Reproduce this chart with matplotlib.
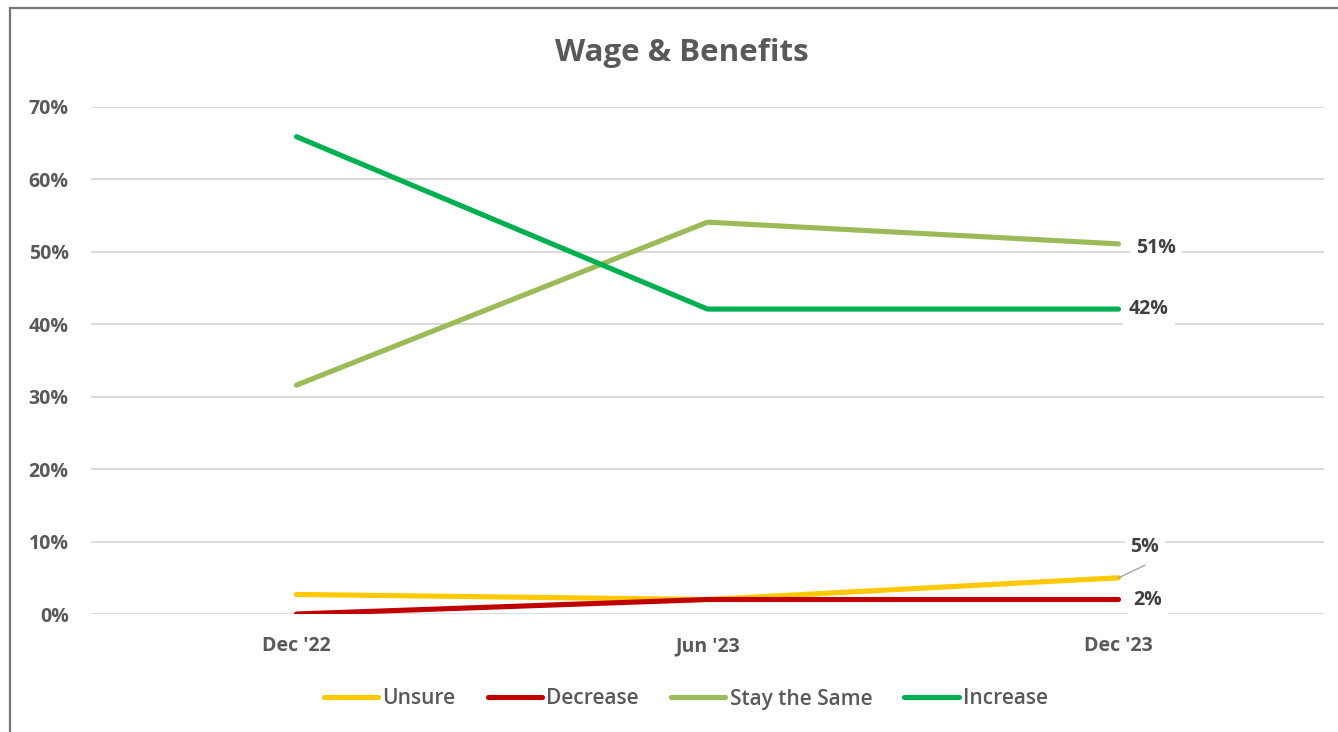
import matplotlib
matplotlib.use("Agg")
import matplotlib.pyplot as plt
from matplotlib.lines import Line2D
from matplotlib.patches import Rectangle

plt.rcParams['font.family'] = ['Open Sans', 'DejaVu Sans']

# Survey periods and responses (share of respondents)
periods = ["Dec '22", "Jun '23", "Dec '23"]
unsure = [0.027, 0.020, 0.05]
decrease = [0.0, 0.02, 0.02]
stay_same = [0.316, 0.541, 0.511]
increase = [0.659, 0.421, 0.421]

series_names = ["Unsure", "Decrease", "Stay the Same", "Increase"]
series_values = [unsure, decrease, stay_same, increase]
series_colors = ["#FFC800", "#C00000", "#9BBB59", "#00B050"]
end_labels = ["5%", "2%", "51%", "42%"]

W, H = 1338, 732
fig = plt.figure(figsize=(W / 100, H / 100), dpi=100)
fig.patch.set_facecolor("white")

# chart frame (left and top edges visible)
fig.patches.append(Rectangle((10 / W, -0.05), 1.2, 1 - 8 / H + 0.05,
                             transform=fig.transFigure, fill=False,
                             edgecolor="#767676", linewidth=1.6, zorder=0))

ax = fig.add_axes([91 / W, 1 - 614 / H, (1324 - 91) / W, (614 - 107) / H])
x = list(range(len(periods)))

for name, vals, col in zip(series_names, series_values, series_colors):
    ax.plot(x, vals, color=col, linewidth=3.7, solid_capstyle="round",
            solid_joinstyle="round", label=name, zorder=3)

ax.set_xlim(-0.5, 2.5)
ax.set_ylim(0, 0.7)
ax.set_yticks([i / 10 for i in range(8)])
ax.set_yticklabels([f"{i * 10}%" for i in range(8)])
ax.set_xticks(x)
ax.set_xticklabels(periods)
ax.grid(axis="y", color="#D9D9D9", linewidth=1.4, zorder=0)
ax.set_axisbelow(True)
for s in ax.spines.values():
    s.set_visible(False)
ax.tick_params(length=0, colors="#595959", labelsize=14)
ax.tick_params(axis="y", pad=16)
ax.tick_params(axis="x", pad=16)
for lab in ax.get_xticklabels() + ax.get_yticklabels():
    lab.set_fontweight("bold")
    lab.set_color("#595959")

# end-point data labels (offsets in points)
label_offsets = {"Unsure": (19, 22), "Decrease": (21, 0),
                 "Stay the Same": (27, -3), "Increase": (22, 0)}
for name, vals, txt in zip(series_names, series_values, end_labels):
    dx, dy = label_offsets[name]
    ax.annotate(txt, xy=(x[-1], vals[-1]), xytext=(dx, dy),
                textcoords="offset points", ha="center", va="center",
                fontsize=14, fontweight="bold", color="#404040",
                bbox=dict(boxstyle="square,pad=0.3", fc="white", ec="none"),
                zorder=5)

# leader line for the Unsure label
ax.annotate("", xy=(x[-1], unsure[-1]), xytext=(19, 9),
            textcoords="offset points",
            arrowprops=dict(arrowstyle="-", color="#A6A6A6", lw=1.0,
                            shrinkA=0, shrinkB=0), zorder=4)

fig.text(682 / W, 1 - 53 / H, "Wage & Benefits", ha="center", va="center",
         fontsize=22.5, fontweight="bold", color="#595959")

handles = [Line2D([0], [0], color=c, linewidth=3.7, solid_capstyle="round")
           for c in series_colors]
leg = fig.legend(handles, series_names, loc="center", ncol=4,
                 bbox_to_anchor=(686 / W, 1 - 699 / H), frameon=False,
                 handlelength=2.6, handletextpad=0.2, columnspacing=1.55,
                 prop=dict(size=15, weight="semibold"))
for t in leg.get_texts():
    t.set_color("#595959")

fig.savefig("out.png", dpi=100, facecolor="white")
